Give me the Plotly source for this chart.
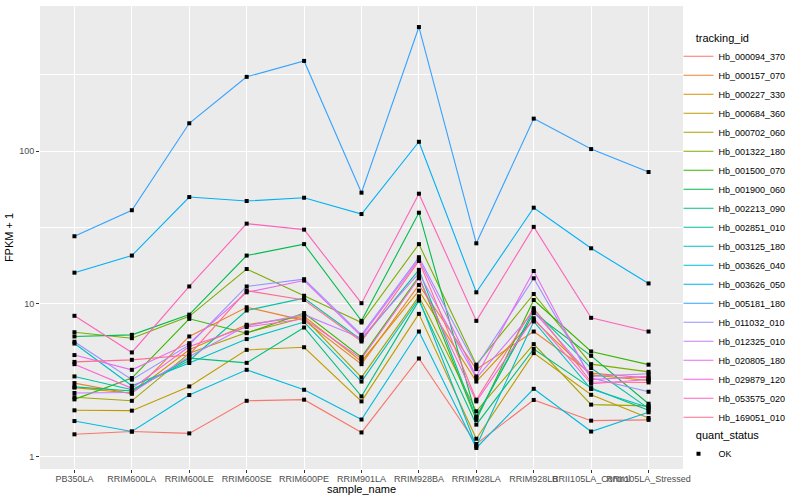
import plotly.graph_objects as go
import math

samples = ["PB350LA", "RRIM600LA", "RRIM600LE", "RRIM600SE", "RRIM600PE", "RRIM901LA",
           "RRIM928BA", "RRIM928LA", "RRIM928LB", "RRII105LA_Control", "RRII105LA_Stressed"]

tracking_ids = ["Hb_000094_370", "Hb_000157_070", "Hb_000227_330", "Hb_000684_360", "Hb_000702_060",
                "Hb_001322_180", "Hb_001500_070", "Hb_001900_060", "Hb_002213_090", "Hb_002851_010",
                "Hb_003125_180", "Hb_003626_040", "Hb_003626_050", "Hb_005181_180", "Hb_011032_010",
                "Hb_012325_010", "Hb_020805_180", "Hb_029879_120", "Hb_053575_020", "Hb_169051_010"]

colors = ["#F8766D", "#EA8331", "#D89000", "#C09B00", "#A3A500", "#7CAE00", "#39B600", "#00BB4E",
          "#00BF7D", "#00C1A3", "#00BFC4", "#00BAE0", "#00B0F6", "#35A2FF", "#9590FF", "#C77CFF",
          "#E76BF3", "#FA62DB", "#FF62BC", "#FF6C91"]

# FPKM + 1 per tracking_id, one value per sample
hb_000094_370 = [1.40, 1.46, 1.42, 2.32, 2.36, 1.44, 4.39, 1.21, 2.35, 1.72, 1.74]
hb_000157_070 = [3.03, 2.58, 6.12, 9.5, 7.8, 4.03, 13.3, 3.74, 6.59, 3.52, 3.27]
hb_000227_330 = [2.83, 2.60, 5.0, 7.3, 8.28, 4.2, 12.2, 3.10, 7.86, 3.43, 3.15]
hb_000684_360 = [2.01, 2.00, 2.88, 5.0, 5.2, 2.30, 8.6, 1.31, 4.76, 2.54, 1.79]
hb_000702_060 = [2.45, 2.32, 4.75, 6.5, 8.1, 3.30, 11.2, 1.98, 5.45, 2.19, 2.15]
hb_001322_180 = [6.52, 5.96, 8.28, 16.9, 11.3, 7.55, 24.6, 4.0, 11.6, 4.03, 3.59]
hb_001500_070 = [2.37, 3.27, 7.98, 6.43, 8.7, 4.48, 15.1, 1.74, 10.6, 4.88, 4.0]
hb_001900_060 = [6.12, 6.27, 8.5, 20.7, 24.6, 7.74, 39.5, 1.83, 8.7, 4.57, 2.22]
hb_002213_090 = [2.86, 2.69, 4.41, 4.11, 7.0, 2.48, 10.5, 1.62, 5.07, 2.81, 2.01]
hb_002851_010 = [3.35, 2.74, 4.26, 9.05, 10.9, 5.8, 16.7, 1.79, 9.12, 3.80, 2.07]
hb_003125_180 = [5.5, 2.91, 4.10, 5.88, 7.6, 3.10, 10.8, 1.17, 7.67, 2.77, 2.1]
hb_003626_040 = [1.71, 1.46, 2.53, 3.70, 2.74, 1.75, 6.59, 1.14, 2.78, 1.46, 1.95]
hb_003626_050 = [16.0, 20.7, 50.0, 47.1, 49.5, 38.7, 115.0, 11.9, 42.6, 23.1, 13.6]
hb_005181_180 = [27.7, 41.0, 152.0, 306.0, 389.0, 53.4, 648.0, 24.9, 163.0, 103.0, 72.9]
hb_011032_010 = [5.65, 3.19, 5.39, 13.0, 14.5, 6.27, 20.2, 3.89, 14.7, 3.27, 2.66]
hb_012325_010 = [2.61, 2.63, 4.52, 7.18, 8.5, 5.96, 15.9, 3.27, 8.9, 3.35, 3.49]
hb_020805_180 = [4.62, 3.70, 5.53, 11.9, 14.2, 6.12, 19.6, 3.35, 16.4, 3.19, 3.35]
hb_029879_120 = [4.03, 2.80, 5.26, 7.05, 7.98, 4.37, 14.7, 2.30, 8.05, 3.0, 3.2]
hb_053575_020 = [8.35, 4.81, 13.0, 33.5, 30.6, 10.1, 52.6, 7.74, 31.9, 8.1, 6.59]
hb_169051_010 = [4.17, 4.30, 4.63, 12.2, 10.6, 5.67, 19.1, 2.36, 9.37, 3.08, 3.06]

series = [hb_000094_370, hb_000157_070, hb_000227_330, hb_000684_360, hb_000702_060,
          hb_001322_180, hb_001500_070, hb_001900_060, hb_002213_090, hb_002851_010,
          hb_003125_180, hb_003626_040, hb_003626_050, hb_005181_180, hb_011032_010,
          hb_012325_010, hb_020805_180, hb_029879_120, hb_053575_020, hb_169051_010]

W, H = 800, 500
L, R, T, B = 39.5, 116.5, 5.5, 31.0
pw, ph = W - L - R, H - T - B


def py(px):
    """pixel row (from top of figure) -> paper y"""
    return (H - B - px) / ph


def pxx(px):
    """pixel column -> paper x"""
    return (px - L) / pw


fig = go.Figure()
for tid, col, vals in zip(tracking_ids, colors, series):
    fig.add_trace(go.Scatter(x=samples, y=vals, mode="lines", name=tid,
                             line=dict(color=col, width=1.1), legendgroup=tid,
                             legend="legend"))

all_x = [s for vals in series for s in samples]
all_y = [v for vals in series for v in vals]
fig.add_trace(go.Scatter(x=all_x, y=all_y, mode="markers", name="OK",
                         marker=dict(color="black", symbol="square", size=4),
                         legend="legend2"))

lo = min(all_y); hi = max(all_y)
llo, lhi = math.log10(lo), math.log10(hi)
pad = (lhi - llo) * 0.05

font = "Liberation Sans, Arial, sans-serif"
indent = "\u00a0" * 5
fig.update_layout(
    width=W, height=H,
    margin=dict(l=L, r=R, t=T, b=B, pad=0),
    paper_bgcolor="white", plot_bgcolor="#EBEBEB",
    font=dict(family=font, size=9, color="#4D4D4D"),
    showlegend=True,
    legend=dict(x=pxx(679), y=py(27), xanchor="left", yanchor="top",
                title=dict(text=indent + "tracking_id", font=dict(size=11, color="black")),
                font=dict(size=9, color="black"), traceorder="grouped", tracegroupgap=0,
                itemwidth=30, bgcolor="rgba(0,0,0,0)"),
    legend2=dict(x=pxx(679), y=py(425), xanchor="left", yanchor="top",
                 title=dict(text=indent + "quant_status", font=dict(size=11, color="black")),
                 font=dict(size=9, color="black"), itemwidth=30, bgcolor="rgba(0,0,0,0)"),
    xaxis=dict(type="category", categoryorder="array", categoryarray=samples,
               range=[-0.6, len(samples) - 1 + 0.6], showgrid=True, gridcolor="white",
               gridwidth=1.1, zeroline=False, ticks="outside", ticklen=3, tickwidth=1,
               tickcolor="#333333", tickangle=0, ticklabelstandoff=-2,
               tickfont=dict(size=9, color="#4D4D4D")),
    yaxis=dict(type="log", range=[llo - pad, lhi + pad], tickmode="array",
               tickvals=[1, 10, 100], ticktext=["1", "10", "100"],
               showgrid=True, gridcolor="white", gridwidth=1.1, zeroline=False,
               ticks="outside", ticklen=3, tickwidth=1, tickcolor="#333333",
               tickfont=dict(size=9, color="#4D4D4D"),
               minor=dict(tickmode="array", tickvals=[10 ** 0.5, 10 ** 1.5, 10 ** 2.5],
                          showgrid=True, gridcolor="white", gridwidth=0.55, ticks=""),
               title=dict(text="FPKM + 1", font=dict(size=11, color="black"), standoff=3)),
    annotations=[dict(text="sample_name", xref="paper", yref="paper", x=0.5, y=py(489),
                      xanchor="center", yanchor="middle", showarrow=False,
                      font=dict(size=11, color="black", family=font))],
)

fig.write_html("out.html", config={"displayModeBar": False},
               post_script="document.body.style.margin='0px';document.body.style.overflow='hidden';")
